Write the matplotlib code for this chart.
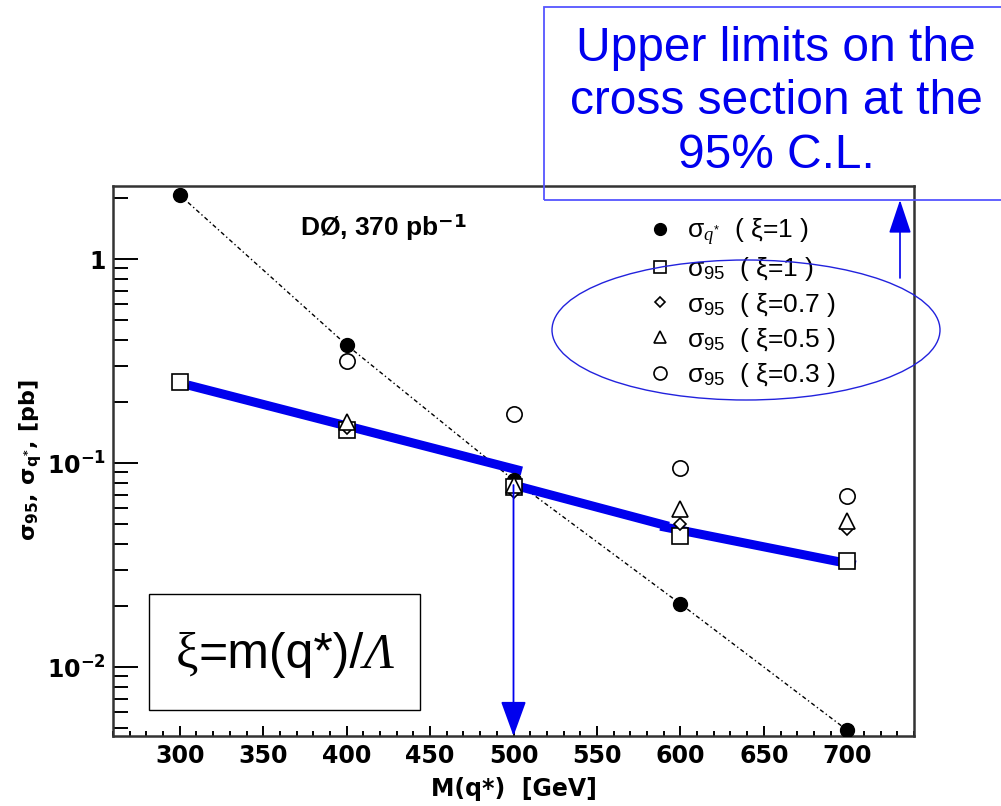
import numpy as np
import matplotlib.pyplot as plt
from matplotlib.patches import Ellipse, Rectangle, FancyArrowPatch
from matplotlib.ticker import FixedLocator, NullFormatter
from matplotlib.offsetbox import TextArea, HPacker, AnnotationBbox

plt.rcParams['mathtext.fontset'] = 'custom'
plt.rcParams['mathtext.rm'] = 'Liberation Sans'
plt.rcParams['mathtext.it'] = 'Liberation Serif:italic'
plt.rcParams['mathtext.bf'] = 'DejaVu Sans:bold'

# values
mass = [300, 400, 500, 600, 700]
sig_qstar = [2.06, 0.379, 0.0826, 0.0204, 0.0049]     # sigma_q* (xi=1)
sig95_x10 = [0.249, 0.145, 0.076, 0.0439, 0.0331]     # sigma_95 (xi=1)
mass4 = [400, 500, 600, 700]
sig95_x07 = [0.148, 0.072, 0.0502, 0.0475]
sig95_x05 = [0.159, 0.078, 0.0595, 0.052]
sig95_x03 = [0.316, 0.174, 0.094, 0.069]

# hand drawn blue guide line (three pieces)
blue_m = [[305, 505], [500, 593], [588, 705]]
blue_s = [[0.241, 0.0914], [0.078, 0.049], [0.049, 0.0316]]

xticks = [300, 350, 400, 450, 500, 550, 600, 650, 700]
yticks = [0.01, 0.1, 1]
ylabels = [r'$\mathbf{10^{-2}}$', r'$\mathbf{10^{-1}}$', r'$\mathbf{1}$']

fig = plt.figure(figsize=(10.01, 8.06), dpi=100)
W, H = 1001, 806
ax = fig.add_axes([113 / W, 1 - 736 / H, (914 - 113) / W, (736 - 186) / H])
ax.set_yscale('log')
ax.set_xlim(260, 740)
ax.set_ylim(0.00459, 2.28)

ax.plot(mass, sig_qstar, color='black', lw=1, ls=(0, (3, 2, 1, 2)), zorder=2)
for m, s in zip(blue_m, blue_s):
    ax.plot(m, s, color='#0000ee', lw=6.5, solid_capstyle='butt', zorder=3)

ax.plot(mass, sig_qstar, 'o', color='black', ms=10, ls='none', zorder=4,
        label=r'$\mathrm{\sigma}_{q^{*}}$  ( $\mathrm{\xi}$=1 )')
ax.plot(mass, sig95_x10, 's', mfc='white', mec='black', mew=1.2, ms=11, ls='none', zorder=4,
        label=r'$\mathrm{\sigma}_{95}$  ( $\mathrm{\xi}$=1 )')
ax.plot(mass4, sig95_x07, 'D', mfc='white', mec='black', mew=1.2, ms=6, ls='none', zorder=4,
        label=r'$\mathrm{\sigma}_{95}$  ( $\mathrm{\xi}$=0.7 )')
ax.plot(mass4, sig95_x05, '^', mfc='white', mec='black', mew=1.2, ms=11, ls='none', zorder=4,
        label=r'$\mathrm{\sigma}_{95}$  ( $\mathrm{\xi}$=0.5 )')
ax.plot(mass4, sig95_x03, 'o', mfc='white', mec='black', mew=1.2, ms=11, ls='none', zorder=4,
        label=r'$\mathrm{\sigma}_{95}$  ( $\mathrm{\xi}$=0.3 )')

# vertical arrow at 500 GeV
ax.add_patch(FancyArrowPatch((500, 0.078), (500, 0.00459), arrowstyle='-|>,head_length=22,head_width=8',
                             mutation_scale=1, color='#0000ee', lw=1.3, shrinkA=0, shrinkB=0, zorder=5,
                             clip_on=False))

ax.xaxis.set_major_locator(FixedLocator(xticks))
ax.xaxis.set_minor_locator(FixedLocator(np.arange(260, 741, 10)))
ax.yaxis.set_major_locator(FixedLocator(yticks))
ax.yaxis.set_minor_locator(FixedLocator([k * 10.0 ** e for e in (-3, -2, -1, 0) for k in range(2, 10)]))
ax.yaxis.set_minor_formatter(NullFormatter())
ax.set_yticklabels(ylabels)
ax.set_xticklabels([str(t) for t in xticks])
for lbl in ax.get_xticklabels():
    lbl.set_fontweight('bold')
    lbl.set_family('DejaVu Sans')
ax.tick_params(axis='both', which='both', direction='in', top=False, right=False, width=1.4, labelsize=17)
ax.tick_params(axis='y', which='major', length=18, pad=5)
ax.tick_params(axis='y', which='minor', length=11)
ax.tick_params(axis='x', which='major', length=7, pad=6)
ax.tick_params(axis='x', which='minor', length=3.6)
for sp in ax.spines.values():
    sp.set_linewidth(1.8)
    sp.set_color('#333333')

ax.set_xlabel('M(q*)  [GeV]', fontsize=17, fontweight='bold', family='DejaVu Sans', labelpad=6)
fig.text(31 / W, 1 - 460 / H, r'$\mathbf{\sigma_{95},\ \sigma_{q^{*}},\ [pb]}$', rotation=90,
         fontsize=16, ha='center', va='center')

fig.text(300 / W, 1 - 236 / H, r'DØ, 370 pb$^{\mathbf{-1}}$', fontsize=19, fontweight='bold',
         family='Liberation Sans', ha='left', va='baseline')

ax.legend(loc='upper left', bbox_to_anchor=(634 / W, 1 - 204 / H), bbox_transform=fig.transFigure,
          frameon=False, prop={'family': 'Liberation Sans', 'size': 19},
          handlelength=1.0, handletextpad=0.5, labelspacing=0.27, borderpad=0, markerscale=0.85)

# annotation boxes and shapes
fig.add_artist(Ellipse((746 / W, 1 - 330 / H), 388 / W, 140 / H, transform=fig.transFigure,
                       fill=False, ec='#2222dd', lw=1.0))
fig.add_artist(FancyArrowPatch((900 / W, 1 - 278 / H), (900 / W, 1 - 200 / H), transform=fig.transFigure,
                               arrowstyle='-|>,head_length=21,head_width=7', mutation_scale=1,
                               color='#0000ee', lw=1.2, shrinkA=0, shrinkB=0))
fig.add_artist(Rectangle((544 / W, 1 - 200 / H), 470 / W, 193 / H, transform=fig.transFigure,
                         fill=False, ec='#5555ff', lw=1.3))
fig.text(776 / W, 1 - 102 / H, 'Upper limits on the\ncross section at the\n95% C.L.', color='#0000ee',
         fontsize=34.5, family='Liberation Sans', ha='center', va='center', linespacing=1.25)

fig.add_artist(Rectangle((149 / W, 1 - 710 / H), 271 / W, 116 / H, transform=fig.transFigure,
                         fc='white', ec='black', lw=1.0))
pieces = [TextArea('ξ', textprops=dict(fontsize=36, family='Liberation Serif')),
          TextArea('=m(q*)/', textprops=dict(fontsize=36, family='Liberation Sans')),
          TextArea('Λ', textprops=dict(fontsize=36, family='Liberation Serif', style='italic'))]
box = HPacker(children=pieces, align='baseline', pad=0, sep=0)
fig.add_artist(AnnotationBbox(box, (285 / W, 1 - 655 / H), xycoords='figure fraction', frameon=False,
                              box_alignment=(0.5, 0.5)))

fig.savefig('out.png', dpi=100)
